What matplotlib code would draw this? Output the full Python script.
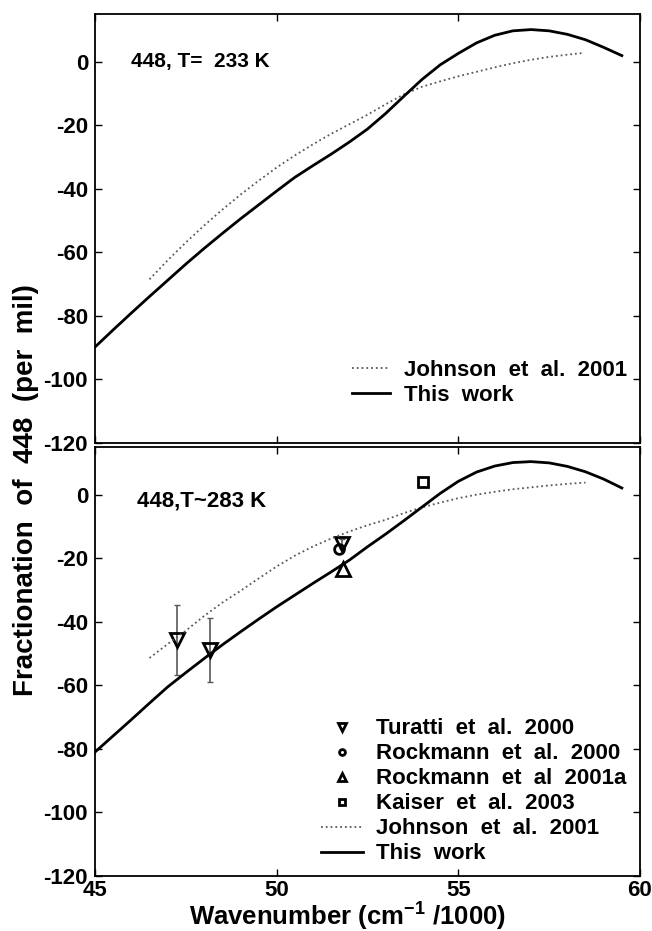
import matplotlib
matplotlib.use('Agg')
import matplotlib.pyplot as plt

plt.rcParams['font.family'] = ['Liberation Sans', 'DejaVu Sans']
plt.rcParams['font.weight'] = 'bold'
plt.rcParams['axes.unicode_minus'] = False
plt.rcParams['mathtext.fontset'] = 'custom'
plt.rcParams['mathtext.rm'] = 'Liberation Sans:bold'
plt.rcParams['mathtext.bf'] = 'Liberation Sans:bold'

# top panel, T = 233 K
wn_233 = [45.0, 45.5, 46.0, 46.5, 47.0, 47.5, 48.0, 48.5, 49.0, 49.5, 50.0, 50.5, 51.0, 51.5,
          52.0, 52.5, 53.0, 53.5, 54.0, 54.5, 55.0, 55.5, 56.0, 56.5, 57.0, 57.5, 58.0, 58.5,
          59.0, 59.5]
this_233 = [-89.8, -84.4, -79.1, -73.9, -68.8, -63.7, -58.8, -54.1, -49.5, -45.1, -40.7, -36.4,
            -32.7, -29.1, -25.3, -21.2, -16.3, -10.9, -5.6, -1.0, 2.6, 5.9, 8.3, 9.7, 10.1, 9.7,
            8.6, 6.9, 4.5, 1.9]
wn_j233 = [46.5, 47.0, 47.5, 48.0, 48.5, 49.0, 49.5, 50.0, 50.5, 51.0, 51.5, 52.0, 52.5, 53.0,
           53.5, 54.0, 54.5, 55.0, 55.5, 56.0, 56.5, 57.0, 57.5, 58.0, 58.4]
john_233 = [-68.5, -62.5, -56.9, -51.6, -46.6, -41.9, -37.5, -33.3, -29.5, -26.0, -22.7, -19.7,
            -16.7, -13.4, -10.3, -7.9, -6.2, -4.6, -3.2, -1.8, -0.5, 0.6, 1.5, 2.2, 2.7]

# bottom panel, T ~ 283 K
wn_283 = [45.0, 45.5, 46.0, 46.5, 47.0, 47.5, 48.0, 48.5, 49.0, 49.5, 50.0, 50.5, 51.0, 51.5,
          52.0, 52.5, 53.0, 53.5, 54.0, 54.5, 55.0, 55.5, 56.0, 56.5, 57.0, 57.5, 58.0, 58.5,
          59.0, 59.5]
this_283 = [-81.0, -75.9, -70.8, -65.6, -60.5, -56.0, -51.6, -47.3, -43.2, -39.2, -35.3, -31.6,
            -27.9, -24.3, -20.6, -16.4, -12.4, -8.2, -3.9, 0.4, 4.2, 7.1, 9.0, 10.1, 10.4, 10.0,
            8.9, 7.2, 4.9, 2.1]
wn_j283 = [46.5, 47.0, 47.5, 48.0, 48.5, 49.0, 49.5, 50.0, 50.5, 51.0, 51.5, 52.0, 52.5, 53.0,
           53.5, 54.0, 54.5, 55.0, 55.5, 56.0, 56.5, 57.0, 57.5, 58.0, 58.5]
john_283 = [-51.4, -47.0, -42.8, -38.2, -34.0, -30.3, -26.4, -22.6, -19.2, -16.3, -13.8, -11.6,
            -9.6, -7.9, -5.8, -4.0, -2.5, -1.1, 0.0, 0.9, 1.7, 2.3, 2.9, 3.4, 3.8]

turatti_x = [47.27, 48.17, 51.8]
turatti_y = [-45.7, -48.8, -15.4]
turatti_err = [11.0, 10.0, 1.5]
rock2000_x = [51.72]
rock2000_y = [-17.1]
rock2001_x = [51.82]
rock2001_y = [-23.3]
kaiser_x = [54.04]
kaiser_y = [4.0]

yticks = [-120, -100, -80, -60, -40, -20, 0]
xticks = [45, 50, 55, 60]

fig = plt.figure(figsize=(6.52, 9.31), dpi=100)
W, H = 652.0, 931.0
ax1 = fig.add_axes([95 / W, 1 - 443 / H, 545 / W, 429 / H])
ax2 = fig.add_axes([95 / W, 1 - 876 / H, 545 / W, 429 / H])

for ax in (ax1, ax2):
    ax.set_xlim(45, 60)
    ax.set_ylim(-120, 15)
    ax.set_xticks(xticks)
    ax.set_yticks(yticks)
    ax.tick_params(direction='in', top=True, right=True, length=5, width=1,
                   labelsize=16)
    ax.tick_params(axis='x', pad=3)
    ax.tick_params(axis='y', pad=5)
    for s in ax.spines.values():
        s.set_linewidth(1.3)

ax1.tick_params(labelbottom=False)

ax1.plot(wn_j233, john_233, ':', color='0.35', lw=1.3, label='Johnson  et  al.  2001')
ax1.plot(wn_233, this_233, '-', color='black', lw=2, label='This  work')
ax1.text(46.0, 0, '448, T=  233 K', fontsize=15, fontweight='bold', va='center')
ax1.legend(loc='lower right', bbox_to_anchor=(1.0, 0.056), frameon=False, fontsize=16,
           handlelength=1.7, handletextpad=0.6, labelspacing=0.18, borderaxespad=0.2)

ax2.errorbar(turatti_x, turatti_y, yerr=turatti_err, fmt='none', ecolor='0.35',
             elinewidth=1.2, capsize=2)
ax2.plot(turatti_x, turatti_y, 'v', mfc='none', mec='black', mew=2, ms=10,
         label='Turatti  et  al.  2000')
ax2.plot(rock2000_x, rock2000_y, 'o', mfc='none', mec='black', mew=2, ms=7,
         label='Rockmann  et  al.  2000')
ax2.plot(rock2001_x, rock2001_y, '^', mfc='none', mec='black', mew=2, ms=10,
         label='Rockmann  et  al  2001a')
ax2.plot(kaiser_x, kaiser_y, 's', mfc='none', mec='black', mew=2, ms=7,
         label='Kaiser  et  al.  2003')
ax2.plot(wn_j283, john_283, ':', color='0.35', lw=1.3, label='Johnson  et  al.  2001')
ax2.plot(wn_283, this_283, '-', color='black', lw=2, label='This  work')
ax2.text(46.15, -2, '448,T~283 K', fontsize=16, fontweight='bold', va='center')
ax2.legend(loc='lower right', bbox_to_anchor=(1.0, -0.004), frameon=False,
           fontsize=16, handlelength=1.9, handletextpad=0.6, labelspacing=0.18,
           markerscale=0.6, borderaxespad=0.2)

fig.text(0.533, 1 - 925 / H, 'Wavenumber (cm$^{-1}$ /1000)', fontsize=18.5,
         fontweight='bold', ha='center', va='baseline')
fig.text(0.040, 1 - 490 / H, 'Fractionation  of  448  (per  mil)', rotation=90,
         fontsize=20, fontweight='bold', ha='center', va='center')

fig.savefig('out.png', dpi=100)
